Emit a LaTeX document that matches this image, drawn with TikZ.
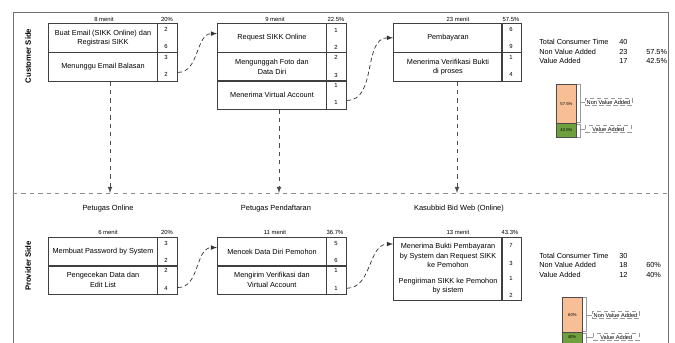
\documentclass[tikz,border=0pt]{standalone}
\usepackage{fontspec}
\setmainfont{Liberation Sans}
\usetikzlibrary{arrows}
\usetikzlibrary{positioning}
\definecolor{nvaorange}{HTML}{F8BF96}
\definecolor{vagreen}{HTML}{6FA03E}

\begin{document}
\begin{tikzpicture}[x=0.025cm, y=-0.025cm, act/.style={rectangle, draw=black!75, line width=0.7pt, minimum width=2.725cm, minimum height=0.715cm, anchor=north west, align=center, inner sep=0pt, font=\fontsize{5.2}{6.6}\selectfont}, tim/.style={rectangle, draw=black!75, line width=0.7pt, minimum width=0.5cm, minimum height=0.715cm, anchor=north west, inner sep=0pt}, num/.style={font=\fontsize{4.2}{5}\selectfont, inner sep=0pt}, head/.style={font=\fontsize{4.2}{5}\selectfont, inner sep=0pt}, role/.style={font=\fontsize{5.3}{6.5}\selectfont, inner sep=0pt}, stat/.style={font=\fontsize{5.2}{6}\selectfont, anchor=west, inner sep=0pt}, flow/.style={densely dashed, line width=0.5pt, black!80, -latex}, down/.style={dashed, line width=0.5pt, black!70, -latex}, bar/.style={rectangle, draw=black!70, line width=0.6pt, minimum width=0.5cm, anchor=north west, inner sep=0pt, font=\fontsize{3}{3.5}\selectfont}, tag/.style={draw=black!40, densely dashed, line width=0.4pt, font=\fontsize{4}{5}\selectfont, inner sep=1pt, minimum width=1.15cm, anchor=west}, brace/.style={black!40, line width=0.4pt}]
\useasboundingbox (0,0) rectangle (675,342);
\clip (0,0) rectangle (675,342);
\draw [black!55, line width=0.6pt] (13,360) -- (13,12) -- (668,12) -- (668,360);
\draw [black!45, dashed, line width=0.5pt] (13,193) -- (668,193);
\node [rotate=90, font=\bfseries\fontsize{5.5}{6.5}\selectfont] (cside) at (28,56) {Customer Side};
\node [rotate=90, font=\bfseries\fontsize{5.5}{6.5}\selectfont] (pside) at (28,266) {Provider Side};

\node [head] (h1) at (104,19) {8 menit};
\node [head] (p1) at (167,19) {20\%};
\node [act] (a1a) at (48,23) {Buat Email (SIKK Online) dan\\Registrasi SIKK};
\node [tim] (t1a) at (157,23) {};
\node [act] (a1b) at (48,52) {Menunggu Email Balasan};
\node [tim] (t1b) at (157,52) {};
\node [num] (n1a) at (166,29) {2};
\node [num] (n1b) at (166,46) {6};
\node [num] (n1c) at (166,57) {3};
\node [num] (n1d) at (166,74) {2};

\node [head] (h2) at (275,19) {9 menit};
\node [head] (p2) at (336,19) {22.5\%};
\node [act] (a2a) at (217,23) {Request SIKK Online};
\node [tim] (t2a) at (326,23) {};
\node [act] (a2b) at (217,52) {Mengunggah Foto dan\\Data Diri};
\node [tim] (t2b) at (326,52) {};
\node [act] (a2c) at (217,80) {Menerima Virtual Account};
\node [tim] (t2c) at (326,80) {};
\node [num] (n2a) at (336,30) {1};
\node [num] (n2b) at (336,47) {2};
\node [num] (n2c) at (336,57) {2};
\node [num] (n2d) at (336,75) {3};
\node [num] (n2e) at (336,85) {1};
\node [num] (n2f) at (336,102) {1};

\node [head] (h3) at (458,19) {23 menit};
\node [head] (p3) at (511,19) {57.5\%};
\node [act] (a3a) at (393,23) {Pembayaran};
\node [tim] (t3a) at (501,23) {};
\node [act] (a3b) at (393,52) {Menerima Verifikasi Bukti\\di proses};
\node [tim] (t3b) at (501,52) {};
\node [num] (n3a) at (511,29) {6};
\node [num] (n3b) at (511,46) {9};
\node [num] (n3c) at (511,57) {1};
\node [num] (n3d) at (511,74) {4};

\draw [flow] ([yshift=-4pt]t1b.east) to [out=0, in=180] ([yshift=3pt]a2a.west);
\draw [flow] ([yshift=-4pt]t2c.east) to [out=0, in=180] (a3a.west);

\coordinate (d1) at (110,193);
\coordinate (d2) at (279,193);
\coordinate (d3) at (457,193);
\draw [down] (a1b.south -| d1) -- (d1);
\draw [down] (a2c.south -| d2) -- (d2);
\draw [down] (a3b.south -| d3) -- (d3);

\node [stat] (s1) at (539,42) {Total Consumer Time};
\node [stat] (s1v) at (619,42) {40};
\node [stat] (s2) at (539,52) {Non Value Added};
\node [stat] (s2v) at (619,52) {23};
\node [stat] (s2p) at (646,52) {57.5\%};
\node [stat] (s3) at (539,61) {Value Added};
\node [stat] (s3v) at (619,61) {17};
\node [stat] (s3p) at (646,61) {42.5\%};

\node [bar, fill=nvaorange, minimum height=0.975cm] (b1a) at (556,84) {57.5\%};
\node [bar, fill=vagreen, minimum height=0.35cm] (b1b) at (556,123) {42.5\%};
\node [tag] (g1a) at (585,102) {Non Value Added};
\node [tag] (g1b) at (585,129) {Value Added};
\draw [brace] (577,84) -- (580,84) -- (580,122) -- (577,122);
\draw [brace] (577,124) -- (580,124) -- (580,137) -- (577,137);
\draw [brace] (580,102) -- (g1a.west);
\draw [brace] (580,129) -- (g1b.west);

\node [role] (r1) at (108,209) {Petugas Online};
\node [role] (r2) at (276,209) {Petugas Pendaftaran};
\node [role] (r3) at (459,209) {Kasubbid Bid Web (Online)};

\node [head] (h4) at (108,232) {6 menit};
\node [head] (p4) at (167,232) {20\%};
\node [act] (a4a) at (48,237) {Membuat Password by System};
\node [tim] (t4a) at (157,237) {};
\node [act] (a4b) at (48,265) {Pengecekan Data dan\\Edit List};
\node [tim] (t4b) at (157,265) {};
\node [num] (n4a) at (166,243) {3};
\node [num] (n4b) at (166,260) {2};
\node [num] (n4c) at (166,270) {2};
\node [num] (n4d) at (166,288) {4};

\node [head] (h5) at (275,232) {11 menit};
\node [head] (p5) at (335,232) {36.7\%};
\node [act] (a5a) at (217,237) {Mencek Data Diri Pemohon};
\node [tim] (t5a) at (326,237) {};
\node [act] (a5b) at (217,265) {Mengirim Verifikasi dan\\Virtual Account};
\node [tim] (t5b) at (326,265) {};
\node [num] (n5a) at (336,243) {5};
\node [num] (n5b) at (336,260) {6};
\node [num] (n5c) at (336,270) {1};
\node [num] (n5d) at (336,288) {1};

\node [head] (h6) at (458,232) {13 menit};
\node [head] (p6) at (510,232) {43.3\%};
\node [act, minimum height=1.575cm] (a6) at (393,237) {Menerima Bukti Pembayaran\\by System dan Request SIKK\\ke Pemohon\\[5pt]Pengiriman SIKK ke Pemohon\\by sistem};
\node [tim, minimum height=1.575cm] (t6) at (501,237) {};
\node [num] (n6a) at (511,245) {7};
\node [num] (n6b) at (511,263) {3};
\node [num] (n6c) at (511,278) {1};
\node [num] (n6d) at (511,295) {2};

\draw [flow] ([yshift=-5.5pt]t4b.east) to [out=0, in=180] ([yshift=3pt]a5a.west);
\draw [flow] ([yshift=-6pt]t5b.east) to [out=0, in=180] ([yshift=-5pt]a6.north west);

\node [stat] (s4) at (539,256) {Total Consumer Time};
\node [stat] (s4v) at (619,256) {30};
\node [stat] (s5) at (539,265) {Non Value Added};
\node [stat] (s5v) at (619,265) {18};
\node [stat] (s5p) at (646,265) {60\%};
\node [stat] (s6) at (539,275) {Value Added};
\node [stat] (s6v) at (619,275) {12};
\node [stat] (s6p) at (646,275) {40\%};

\node [bar, fill=nvaorange, minimum height=0.875cm] (b2a) at (562,297) {60\%};
\node [bar, fill=vagreen, minimum height=0.5cm] (b2b) at (562,332) {};
\node [font=\fontsize{3}{3.5}\selectfont, inner sep=0pt] (b2l) at (572,337) {40\%};
\node [tag] (g2a) at (592,315) {Non Value Added};
\node [tag] (g2b) at (593,337) {Value Added};
\draw [brace] (583,297) -- (586,297) -- (586,331) -- (583,331);
\draw [brace] (583,333) -- (586,333) -- (586,350);
\draw [brace] (586,315) -- (g2a.west);
\draw [brace] (586,337) -- (g2b.west);
\end{tikzpicture}
\end{document}
